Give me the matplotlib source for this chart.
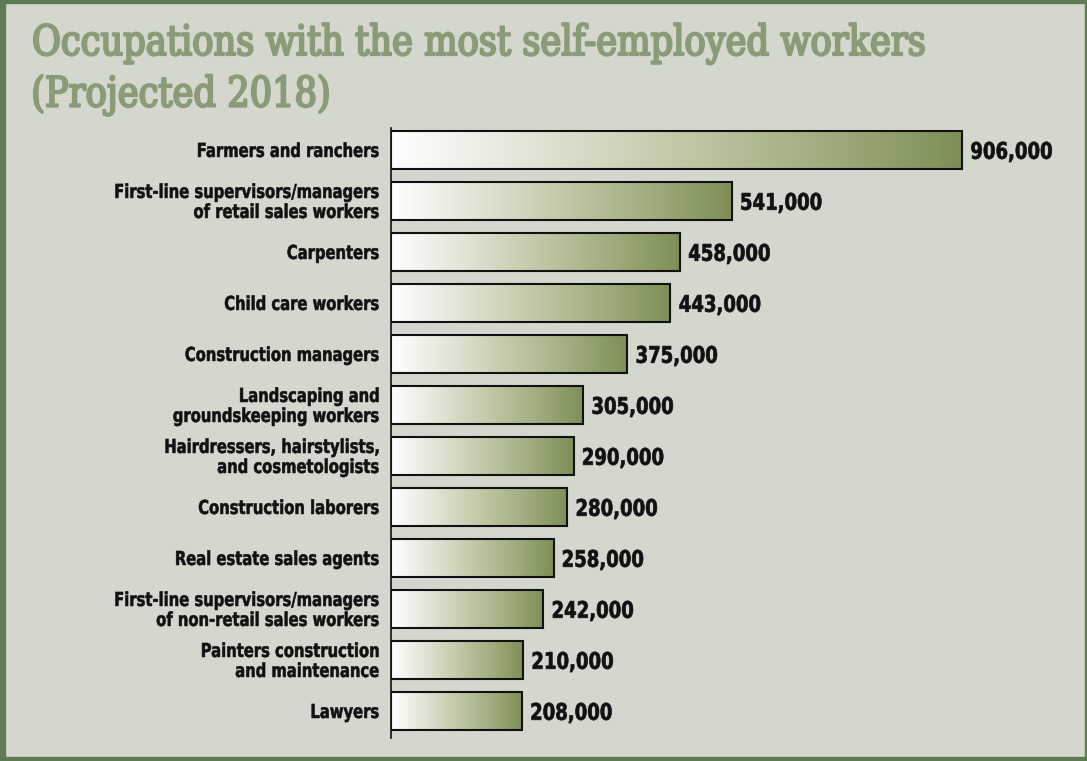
import matplotlib
matplotlib.use("Agg")
import matplotlib.pyplot as plt
import numpy as np
from matplotlib.patches import Rectangle, PathPatch
from matplotlib.colors import LinearSegmentedColormap
from matplotlib.font_manager import FontProperties
from matplotlib.textpath import TextPath
from matplotlib.transforms import Affine2D

categories = [
    "Farmers and ranchers",
    "First-line supervisors/managers\nof retail sales workers",
    "Carpenters",
    "Child care workers",
    "Construction managers",
    "Landscaping and\ngroundskeeping workers",
    "Hairdressers, hairstylists,\nand cosmetologists",
    "Construction laborers",
    "Real estate sales agents",
    "First-line supervisors/managers\nof non-retail sales workers",
    "Painters construction\nand maintenance",
    "Lawyers",
]
values = [906000, 541000, 458000, 443000, 375000, 305000, 290000, 280000,
          258000, 242000, 210000, 208000]
value_labels = ["906,000", "541,000", "458,000", "443,000", "375,000", "305,000",
                "290,000", "280,000", "258,000", "242,000", "210,000", "208,000"]
title_lines = ["Occupations with the most self-employed workers", "(Projected 2018)"]

W, H = 1087, 761
fig = plt.figure(figsize=(W / 100, H / 100), dpi=100)
bg = "#d4d7cd"
border = "#5e7b55"
fig.patch.set_facecolor(bg)

# frame
fig.patches.append(Rectangle((0, 0), 5 / W, 1, transform=fig.transFigure, color=border, zorder=0))
fig.patches.append(Rectangle((0, 1 - 3 / H), 1, 3 / H, transform=fig.transFigure, color=border, zorder=0))
fig.patches.append(Rectangle((1 - 2 / W, 0), 2 / W, 1, transform=fig.transFigure, color=border, zorder=0))
fig.patches.append(Rectangle((0, 0), 1, 4 / H, transform=fig.transFigure, color=border, zorder=0))

# main axes: x from 391 px, 630 px per 1,000,000
ax_left = 391
ax_w = 630
y_top, y_bot = 128, 738
ax = fig.add_axes([ax_left / W, 1 - y_bot / H, ax_w / W, (y_bot - y_top) / H])
ax.set_facecolor("none")
n = len(values)

cmap = LinearSegmentedColormap.from_list(
    "g", ["#ffffff", "#e2e4d6", "#c3c9a8", "#a2ae81", "#7d8f55"])
grad = np.linspace(0, 1, 256).reshape(1, -1)
bh = 0.73
for i, v in enumerate(values):
    ax.imshow(grad, cmap=cmap, aspect="auto", extent=(0, v, i + bh / 2, i - bh / 2),
              zorder=2, interpolation="bilinear")
    ax.add_patch(Rectangle((0, i - bh / 2), v, bh, fill=False, edgecolor="#111111",
                           linewidth=1.5, zorder=3))

ax.set_xlim(0, 1000000)
ax.set_ylim(n - 1 + 0.53, -0.43)
ax.set_yticks([])
ax.set_xticks([])
for s in ["top", "right", "bottom"]:
    ax.spines[s].set_visible(False)
ax.spines["left"].set_linewidth(1.2)
ax.spines["left"].set_color("#111111")

# overlay in pixel coordinates (y down) for condensed text
ov = fig.add_axes([0, 0, 1, 1], zorder=10)
ov.set_xlim(0, W)
ov.set_ylim(H, 0)
ov.axis("off")
ov.patch.set_alpha(0)

sans_b = FontProperties(family="DejaVu Sans", weight="bold")
serif_r = FontProperties(family="DejaVu Serif", weight="normal")


def tpath(s, size, prop):
    return TextPath((0, 0), s, size=size, prop=prop)


def draw(s, x, baseline, size, prop, sx, color, ha="left", stroke=0.0):
    tp = tpath(s, size, prop)
    ext = tp.get_extents()
    if ha == "left":
        x0 = x - ext.x0 * sx
    elif ha == "right":
        x0 = x - ext.x1 * sx
    else:
        x0 = x - (ext.x0 + ext.x1) / 2 * sx
    p = Affine2D().scale(sx, -1).translate(x0, baseline).transform_path(tp)
    ov.add_patch(PathPatch(p, facecolor=color, edgecolor=color if stroke > 0 else "none",
                           lw=stroke, joinstyle="round"))


def px_to_data_y(i):
    return ov.transData.inverted().transform(ax.transData.transform((0, i)))[1]


def px_x(v):
    return ov.transData.inverted().transform(ax.transData.transform((v, 0)))[0]


# title
title_cap = 30.5
cap_ratio = 0.729
tsize = title_cap / cap_ratio
w0 = tpath(title_lines[0], tsize, serif_r).get_extents()
tsx = 890.0 / (w0.x1 - w0.x0)
draw(title_lines[0], 34, 55, tsize, serif_r, tsx, "#8a9b78", stroke=1.6)
draw(title_lines[1], 34, 106.5, tsize, serif_r, tsx, "#8a9b78", stroke=1.6)

# category labels
lab_cap = 14.0
lsize = lab_cap / cap_ratio
we = tpath("First-line supervisors/managers", lsize, sans_b).get_extents()
lsx = 263.0 / (we.x1 - we.x0)
line_h = 20.0
for i, lab in enumerate(categories):
    cy = px_to_data_y(i)
    lines = lab.split("\n")
    k = len(lines)
    for j, ln in enumerate(lines):
        base = cy + lab_cap / 2 + (j - (k - 1) / 2) * line_h
        draw(ln, 378.5, base, lsize, sans_b, lsx, "#111111", ha="right", stroke=0.4)

# value labels
val_cap = 16.7
vsize = val_cap / cap_ratio
wv = tpath("906,000", vsize, sans_b).get_extents()
vsx = 80.5 / (wv.x1 - wv.x0)
for i, v in enumerate(values):
    cy = px_to_data_y(i)
    draw(value_labels[i], px_x(v) + 9.5, cy + val_cap / 2 + 0.5, vsize, sans_b, vsx,
         "#111111", ha="left", stroke=0.5)

fig.savefig("out.png", dpi=100, facecolor=fig.get_facecolor())
